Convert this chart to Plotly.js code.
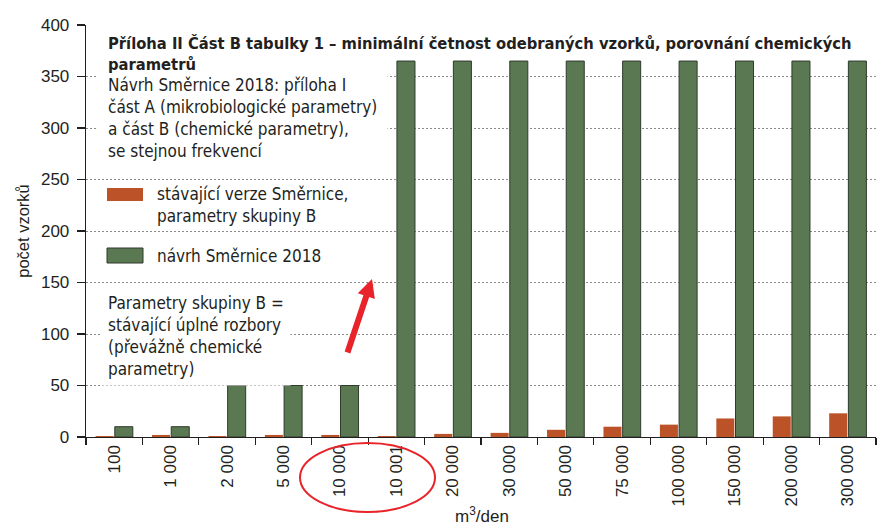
<!DOCTYPE html>
<html>
<head>
<meta charset="utf-8">
<script src="https://cdn.plot.ly/plotly-3.0.1.min.js"></script>
<style>html,body{margin:0;padding:0;background:#fff;}#chart{width:878px;height:525px;}</style>
</head>
<body>
<div id="chart"></div>
<script>
// Categories (m3/den)
const categories = ["100","1 000","2 000","5 000","10 000","10 001","20 000","30 000","50 000","75 000","100 000","150 000","200 000","300 000"];
// Series values (počet vzorků)
const currentDirective = [1, 2, 1, 2, 2, 1, 3, 4, 7, 10, 12, 18, 20, 23];
const proposal2018 = [10, 10, 50, 50, 50, 365, 365, 365, 365, 365, 365, 365, 365, 365];
const seriesNames = ["stávající verze Směrnice, parametry skupiny B", "návrh Směrnice 2018"];

const ORANGE = "#bb5228";
const GREEN = "#5a7852";
const GREEN_EDGE = "#2f3b2c";
const INK = "#231f20";
const TICKFONT = "Liberation Sans, Arial, sans-serif";
const NARROW = "DejaVu Sans Condensed, Liberation Sans, sans-serif";

const W = 878, H = 525;
const M = {l: 86, r: 2, t: 25, b: 88};
const PW = W - M.l - M.r, PH = H - M.t - M.b;
const px = x => (x - M.l) / PW;       // pixel x -> paper x
const py = y => (H - M.b - y) / PH;   // pixel y -> paper y

const traces = [
  {type: "bar", name: seriesNames[0], x: categories, y: currentDirective,
   marker: {color: ORANGE, line: {width: 0}}, showlegend: false, hoverinfo: "x+y"},
  {type: "bar", name: seriesNames[1], x: categories, y: proposal2018,
   marker: {color: GREEN, line: {color: GREEN_EDGE, width: 1}}, showlegend: false, hoverinfo: "x+y"}
];

const layout = {
  width: W, height: H,
  margin: M,
  paper_bgcolor: "#fff", plot_bgcolor: "#fff",
  barmode: "group", bargap: 0.32, bargroupgap: 0.06,
  font: {family: TICKFONT, color: INK, size: 17},
  xaxis: {
    type: "category", range: [-0.5, 13.5], tickson: "boundaries",
    ticks: "outside", ticklen: 7, tickwidth: 1.2, tickcolor: INK,
    showline: true, linecolor: INK, linewidth: 1.3,
    tickangle: -90, tickfont: {family: TICKFONT, size: 17, color: INK},
    showgrid: false, fixedrange: true
  },
  yaxis: {
    range: [0, 400], dtick: 50, tick0: 0,
    ticks: "outside", ticklen: 8, tickwidth: 1.2, tickcolor: INK,
    showline: true, linecolor: INK, linewidth: 1.3,
    tickfont: {family: TICKFONT, size: 17, color: INK},
    ticklabelstandoff: 4,
    showgrid: true, gridcolor: "#8a8a8a", gridwidth: 1, griddash: "2px,2px",
    zeroline: false,
    title: {text: "počet vzorků", font: {family: TICKFONT, size: 16.5, color: INK}, standoff: 7},
    fixedrange: true
  },
  shapes: [
    {type: "rect", xref: "paper", yref: "paper", x0: px(107), x1: px(143), y0: py(201), y1: py(188),
     fillcolor: ORANGE, line: {width: 0}},
    {type: "rect", xref: "paper", yref: "paper", x0: px(107), x1: px(143), y0: py(263), y1: py(248),
     fillcolor: GREEN, line: {color: GREEN_EDGE, width: 1}},
    {type: "circle", xref: "paper", yref: "paper", x0: px(300), x1: px(435), y0: py(512), y1: py(443),
     line: {color: "#e8232a", width: 2}}
  ],
  annotations: [
    {xref: "paper", yref: "paper", x: px(97), y: py(118), xanchor: "left", yanchor: "middle",
     align: "left", showarrow: false, bgcolor: "#fff", borderpad: 10,
     text: "Návrh Směrnice 2018: příloha I<br>část A (mikrobiologické parametry)<br>a část B (chemické parametry),<br>se stejnou frekvencí",
     font: {family: NARROW, size: 17, color: INK}},
    {xref: "paper", yref: "paper", x: px(107), y: py(54), xanchor: "left", yanchor: "middle",
     align: "left", showarrow: false, borderpad: 0,
     text: "<b>Příloha II Část B tabulky 1 – minimální četnost odebraných vzorků, porovnání chemických<br>parametrů</b>",
     font: {family: NARROW, size: 16.4, color: INK}},
    {xref: "paper", yref: "paper", x: px(156), y: py(205), xanchor: "left", yanchor: "middle",
     align: "left", showarrow: false, borderpad: 0,
     text: "stávající verze Směrnice,<br>parametry skupiny B",
     font: {family: NARROW, size: 17, color: INK}},
    {xref: "paper", yref: "paper", x: px(156), y: py(256), xanchor: "left", yanchor: "middle",
     align: "left", showarrow: false, borderpad: 0,
     text: "návrh Směrnice 2018",
     font: {family: NARROW, size: 17, color: INK}},
    {xref: "paper", yref: "paper", x: px(101), y: py(335.5), xanchor: "left", yanchor: "middle",
     align: "left", showarrow: false, bgcolor: "#fff", borderpad: 6,
     text: "Parametry skupiny B =<br>stávající úplné rozbory<br>(převážně chemické<br>parametry)",
     font: {family: NARROW, size: 17, color: INK}},
    {xref: "paper", yref: "paper", x: px(372), y: py(279), text: "", showarrow: true,
     ax: -25, ay: 75, axref: "pixel", ayref: "pixel",
     arrowhead: 2, arrowsize: 0.6, arrowwidth: 6, arrowcolor: "#e8232a"},
    {xref: "paper", yref: "paper", x: px(482), y: py(515), xanchor: "center", yanchor: "middle",
     showarrow: false, borderpad: 0, text: "m<sup>3</sup>/den",
     font: {family: TICKFONT, size: 17, color: INK}}
  ]
};

Plotly.newPlot("chart", traces, layout, {staticPlot: true, displayModeBar: false});
</script>
</body>
</html>
